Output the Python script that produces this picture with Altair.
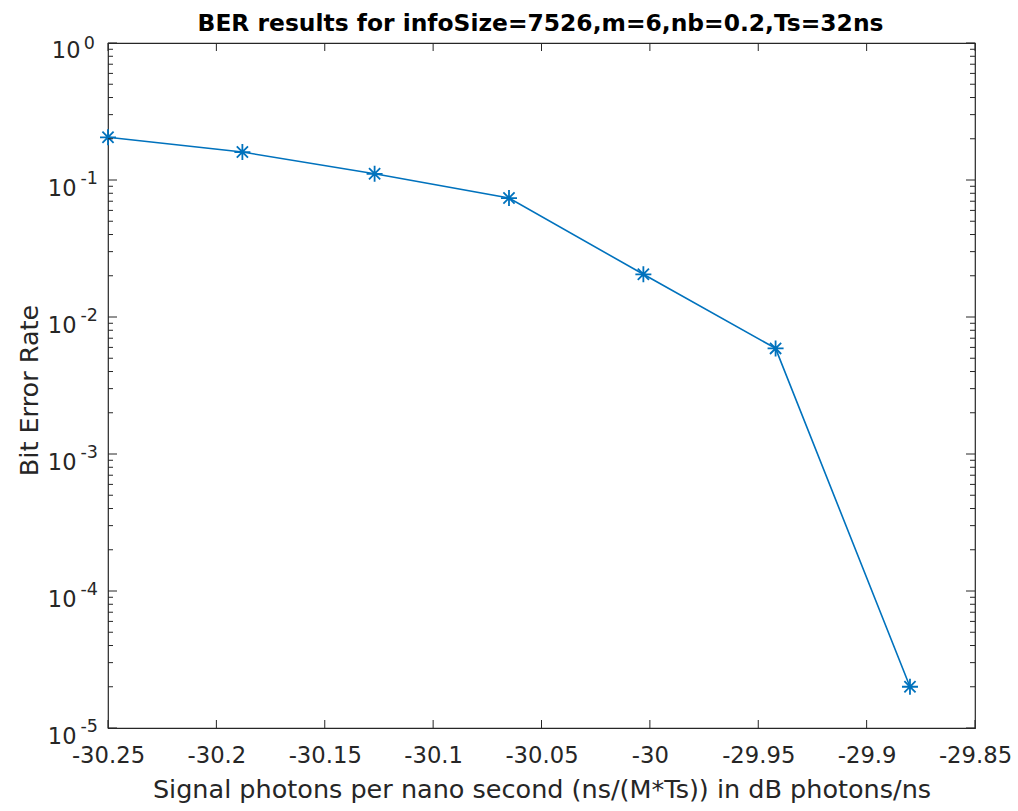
import altair as alt
import pandas as pd

# BER curve: signal level (dB photons/ns) vs bit error rate
snr_db = [-30.25, -30.188, -30.127, -30.065, -30.003, -29.942, -29.880]
ber = [0.205, 0.160, 0.111, 0.0738, 0.0205, 0.0059, 2.0e-5]

x_tick_values = [-30.25, -30.2, -30.15, -30.1, -30.05, -30.0, -29.95, -29.9, -29.85]
decade_values = [1, 0.1, 0.01, 0.001, 1e-4, 1e-5]
decade_exponents = ["0", "-1", "-2", "-3", "-4", "-5"]
minor_values = [m * 10.0 ** k for k in range(-5, 0) for m in range(2, 10)]

TITLE = "BER results for infoSize=7526,m=6,nb=0.2,Ts=32ns"
X_TITLE = "Signal photons per nano second (ns/(M*Ts)) in dB photons/ns"
Y_TITLE = "Bit Error Rate"

BLUE = "#0072BD"
AXIS_COLOR = "#262626"
FONT = "DejaVu Sans"
W, H = 867, 685

df = pd.DataFrame({"snr": snr_db, "ber": ber})
xticks_df = pd.DataFrame({"v": x_tick_values})
dec_df = pd.DataFrame({"v": decade_values, "e": decade_exponents})
minor_df = pd.DataFrame({"v": minor_values})

x_scale = alt.Scale(domain=[-30.25, -29.85], nice=False, zero=False)
y_scale = alt.Scale(type="log", domain=[1e-5, 1], nice=False)

x_axis = alt.Axis(
    values=x_tick_values,
    labelExpr="replace(format(datum.value, '~g'), '\u2212', '-')",
    ticks=False, tickSize=0, domain=False, grid=False,
    labelFont=FONT, labelFontSize=22.7, labelColor=AXIS_COLOR,
    labelBaseline="alphabetic", labelPadding=34, labelFlush=False,
    title=X_TITLE, titleFont=FONT, titleFontSize=25.5, titleFontWeight="normal",
    titleColor=AXIS_COLOR, titleX=433.5, titleY=69,
    titleBaseline="alphabetic", titleAlign="center",
)
y_axis = alt.Axis(
    labels=False, ticks=False, tickSize=0, domain=False, grid=False,
    title=Y_TITLE, titleFont=FONT, titleFontSize=25.5, titleFontWeight="normal",
    titleColor=AXIS_COLOR, titleAngle=270, titleX=-79, titleY=347,
    titleBaseline="middle", titleAlign="center",
)


def X(field):
    return alt.X(field, type="quantitative", scale=x_scale, axis=x_axis)


def Y(field):
    return alt.Y(field, type="quantitative", scale=y_scale, axis=y_axis)


line = alt.Chart(df).mark_line(color=BLUE, strokeWidth=1.6).encode(
    x=X("snr"), y=Y("ber")
)

star = "M-1,0L1,0M0,-1L0,1M-0.7,-0.7L0.7,0.7M-0.7,0.7L0.7,-0.7"
markers = alt.Chart(df).mark_point(
    shape=star, filled=False, color=BLUE, strokeWidth=1.8, size=256, opacity=1
).encode(x=X("snr"), y=Y("ber"))

# inward ticks on the box
tick_style = dict(color=AXIS_COLOR, strokeWidth=1)
xt_bottom = alt.Chart(xticks_df).mark_rule(**tick_style).encode(
    x=X("v"), y=alt.value(H), y2=alt.value(H - 8)
)
xt_top = alt.Chart(xticks_df).mark_rule(**tick_style).encode(
    x=X("v"), y=alt.value(0), y2=alt.value(8)
)
yt_left = alt.Chart(dec_df).mark_rule(**tick_style).encode(
    y=Y("v"), x=alt.value(0), x2=alt.value(9)
)
yt_right = alt.Chart(dec_df).mark_rule(**tick_style).encode(
    y=Y("v"), x=alt.value(W), x2=alt.value(W - 9)
)
ym_left = alt.Chart(minor_df).mark_rule(**tick_style).encode(
    y=Y("v"), x=alt.value(0), x2=alt.value(5)
)
ym_right = alt.Chart(minor_df).mark_rule(**tick_style).encode(
    y=Y("v"), x=alt.value(W), x2=alt.value(W - 5)
)

# y tick labels written as 10 with a raised exponent
base_text = dict(font=FONT, color=AXIS_COLOR, align="right", baseline="alphabetic")
ten_zero = alt.Chart(dec_df).transform_filter("datum.e == '0'").mark_text(
    fontSize=22.5, dy=15, **base_text
).encode(y=Y("v"), x=alt.value(-27.5), text=alt.value("10"))
ten_neg = alt.Chart(dec_df).transform_filter("datum.e != '0'").mark_text(
    fontSize=22.5, dy=16, **base_text
).encode(y=Y("v"), x=alt.value(-31.5), text=alt.value("10"))
exp_zero = alt.Chart(dec_df).transform_filter("datum.e == '0'").mark_text(
    fontSize=17.5, dy=6, **base_text
).encode(y=Y("v"), x=alt.value(-13), text="e:N")
exp_neg = alt.Chart(dec_df).transform_filter("datum.e != '0'").mark_text(
    fontSize=17.5, dy=4, **base_text
).encode(y=Y("v"), x=alt.value(-10), text="e:N")

title = alt.Chart(df).transform_filter("datum.snr == -30.25").mark_text(
    font="DejaVu Sans", fontSize=23.4, fontWeight="bold", color="#000000",
    align="center", baseline="alphabetic",
).encode(x=alt.value(W / 2 - 1), y=alt.value(-12), text=alt.value(TITLE))

chart = alt.layer(
    line, markers, xt_bottom, xt_top, yt_left, yt_right, ym_left, ym_right,
    ten_zero, ten_neg, exp_zero, exp_neg, title,
).properties(
    width=W, height=H,
    autosize=alt.AutoSizeParams(type="none"),
    padding={"left": 108, "top": 43, "right": 43, "bottom": 83},
    background="white",
).configure_view(stroke=AXIS_COLOR, strokeWidth=1.2)

chart.save("out.html", embed_options={"renderer": "svg", "actions": False})
